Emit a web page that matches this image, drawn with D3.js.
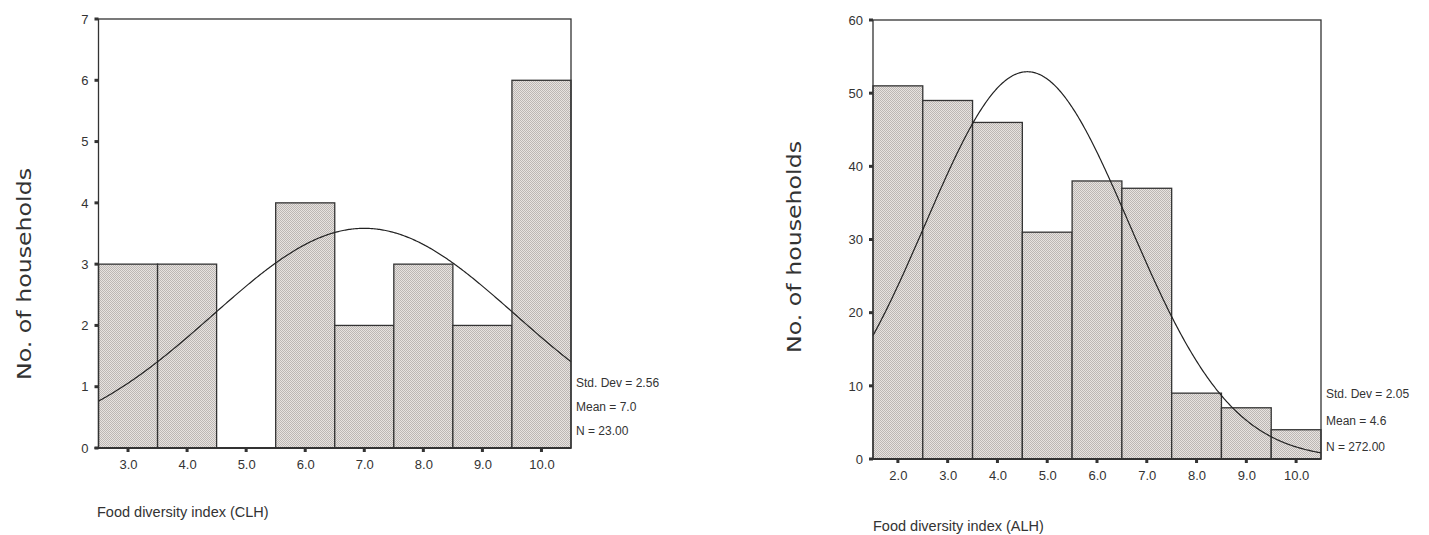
<!DOCTYPE html>
<html>
<head>
<meta charset="utf-8">
<script src="https://cdn.jsdelivr.net/npm/d3@7/dist/d3.min.js"></script>
<style>
  html, body { margin: 0; padding: 0; background: #fff; }
  svg { display: block; }
  text { font-family: "Liberation Sans", Arial, Helvetica, sans-serif; fill: #333; }
</style>
</head>
<body>
<svg id="chart" width="1429" height="535"></svg>
<script>
// Households per food diversity index score, community-level (CLH)
const clhScores = [3, 4, 5, 6, 7, 8, 9, 10];
const clhCounts = [3, 3, 0, 4, 2, 3, 2, 6];
const clhYTicks = [0, 1, 2, 3, 4, 5, 6, 7];
const clhStats = { sd: 2.56, mean: 7.0, n: 23 };

// Households per food diversity index score, area-level (ALH)
const alhScores = [2, 3, 4, 5, 6, 7, 8, 9, 10];
const alhCounts = [51, 49, 46, 31, 38, 37, 9, 7, 4];
const alhYTicks = [0, 10, 20, 30, 40, 50, 60];
const alhStats = { sd: 2.05, mean: 4.6, n: 272 };

const svg = d3.select("#chart");

// Stippled grey fill used by the histogram bars
const defs = svg.append("defs");
const pat = defs.append("pattern")
  .attr("id", "stipple")
  .attr("patternUnits", "userSpaceOnUse")
  .attr("width", 2).attr("height", 2);
pat.append("rect").attr("width", 2).attr("height", 2).attr("fill", "#e7e3e0");
pat.append("rect").attr("x", 0).attr("y", 0).attr("width", 1).attr("height", 1).attr("fill", "#bcb7b4");
pat.append("rect").attr("x", 1).attr("y", 1).attr("width", 1).attr("height", 1).attr("fill", "#bcb7b4");

function histogram(cfg) {
  const g = svg.append("g");
  const x = d3.scaleLinear().domain(cfg.xDomain).range([cfg.left, cfg.right]);
  const y = d3.scaleLinear().domain([0, cfg.yMax]).range([cfg.bottom, cfg.top]);
  const ink = "#333";

  // bars (bin width 1, centred on each score)
  g.selectAll("rect.bar")
    .data(cfg.scores.map((s, i) => ({ s, c: cfg.counts[i] })).filter(d => d.c > 0))
    .join("rect")
    .attr("class", "bar")
    .attr("x", d => x(d.s - 0.5))
    .attr("width", d => x(d.s + 0.5) - x(d.s - 0.5))
    .attr("y", d => y(d.c))
    .attr("height", d => y(0) - y(d.c))
    .attr("fill", "url(#stipple)")
    .attr("stroke", ink)
    .attr("stroke-width", 1.3);

  // fitted normal curve from the stated mean, std. dev and N
  const pdf = v => cfg.stats.n / (cfg.stats.sd * Math.sqrt(2 * Math.PI)) *
    Math.exp(-0.5 * Math.pow((v - cfg.stats.mean) / cfg.stats.sd, 2));
  const xs = d3.range(cfg.xDomain[0], cfg.xDomain[1] + 1e-9, 0.02);
  g.append("path")
    .datum(xs)
    .attr("fill", "none")
    .attr("stroke", "#222")
    .attr("stroke-width", 1.2)
    .attr("d", d3.line().x(v => x(v)).y(v => y(pdf(v))));

  // plot frame
  g.append("rect")
    .attr("x", cfg.left).attr("y", cfg.top)
    .attr("width", cfg.right - cfg.left).attr("height", cfg.bottom - cfg.top)
    .attr("fill", "none").attr("stroke", ink).attr("stroke-width", 1.3);

  // heavier base line reaching to the zero tick
  g.append("line")
    .attr("x1", cfg.left - 4).attr("x2", cfg.right)
    .attr("y1", cfg.bottom).attr("y2", cfg.bottom)
    .attr("stroke", ink).attr("stroke-width", 2);

  // y axis: square tick marks and integer labels
  const yAxis = d3.axisLeft(y).tickValues(cfg.yTicks).tickSize(0).tickPadding(10)
    .tickFormat(d3.format("d"));
  const ya = g.append("g").attr("transform", `translate(${cfg.left},0)`).call(yAxis);
  ya.select(".domain").remove();
  ya.selectAll("text").style("font-size", "13px").attr("fill", "#333")
    .style("font-family", "'Liberation Sans', Arial, sans-serif");
  g.selectAll("rect.ytick").data(cfg.yTicks).join("rect")
    .attr("class", "ytick")
    .attr("x", cfg.left - 4).attr("y", d => y(d) - 1.5)
    .attr("width", 4).attr("height", 3).attr("fill", ink);

  // x axis: square tick marks under the base, labels with one decimal
  const xAxis = d3.axisBottom(x).tickValues(cfg.scores).tickSize(0).tickPadding(12)
    .tickFormat(d3.format(".1f"));
  const xa = g.append("g").attr("transform", `translate(0,${cfg.bottom})`).call(xAxis);
  xa.select(".domain").remove();
  xa.selectAll("text").style("font-size", "13px").attr("fill", "#333")
    .style("font-family", "'Liberation Sans', Arial, sans-serif");
  g.selectAll("rect.xtick").data(cfg.scores).join("rect")
    .attr("class", "xtick")
    .attr("x", d => x(d) - 1.5).attr("y", cfg.bottom)
    .attr("width", 3).attr("height", 4).attr("fill", ink);

  // summary statistics
  const statLines = [
    `Std. Dev = ${cfg.stats.sd.toFixed(2)}`,
    `Mean = ${cfg.stats.mean.toFixed(1)}`,
    `N = ${cfg.stats.n.toFixed(2)}`
  ];
  g.selectAll("text.stat").data(statLines).join("text")
    .attr("class", "stat")
    .attr("x", cfg.right + 5)
    .attr("y", (d, i) => cfg.statY + i * cfg.statGap)
    .style("font-size", "12px")
    .text(d => d);

  // axis titles
  g.append("text")
    .attr("x", cfg.xTitle[0]).attr("y", cfg.xTitle[1])
    .style("font-size", "14.5px")
    .text(cfg.xLabel);
  g.append("text")
    .attr("transform", `translate(${cfg.yTitle[0]},${cfg.yTitle[1]}) rotate(-90)`)
    .attr("text-anchor", "middle")
    .attr("textLength", 212).attr("lengthAdjust", "spacingAndGlyphs")
    .style("font-size", "20px")
    .style("font-family", "'DejaVu Sans', sans-serif")
    .attr("fill", "#3a3a3a")
    .text("No. of households");
}

histogram({
  scores: clhScores, counts: clhCounts, yTicks: clhYTicks, stats: clhStats,
  xDomain: [2.5, 10.5], yMax: 7,
  left: 98.5, right: 571, top: 19, bottom: 448,
  statY: 387, statGap: 24,
  xLabel: "Food diversity index (CLH)", xTitle: [97, 517],
  yTitle: [31, 274]
});

histogram({
  scores: alhScores, counts: alhCounts, yTicks: alhYTicks, stats: alhStats,
  xDomain: [1.5, 10.5], yMax: 60,
  left: 873, right: 1321, top: 20, bottom: 459,
  statY: 398, statGap: 26.5,
  xLabel: "Food diversity index (ALH)", xTitle: [873, 531],
  yTitle: [801, 247]
});
</script>
</body>
</html>
